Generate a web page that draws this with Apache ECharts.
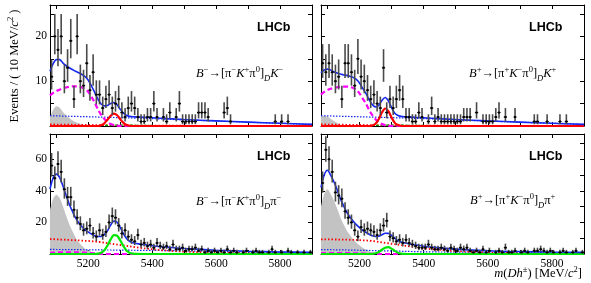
<!DOCTYPE html>
<html><head><meta charset="utf-8">
<script src="https://cdn.jsdelivr.net/npm/echarts@6/dist/echarts.min.js"></script>
<style>html,body{margin:0;padding:0;background:#fff}#c{width:591px;height:283px}</style>
</head><body><div id="c"></div>
<script>
// ---------- data ----------
const binCenters = [5085,5095,5105,5115,5125,5135,5145,5155,5165,5175,5185,5195,5205,5215,5225,5235,5245,5255,5265,5275,5285,5295,5305,5315,5325,5335,5345,5355,5365,5375,5385,5395,5405,5415,5425,5435,5445,5455,5465,5475,5485,5495,5505,5515,5525,5535,5545,5555,5565,5575,5585,5595,5605,5615,5625,5635,5645,5655,5665,5675,5685,5695,5705,5715,5725,5735,5745,5755,5765,5775,5785,5795,5805,5815,5825,5835,5845,5855,5865,5875,5885,5895];

const tlCounts = [11,20,17,20,10,13,19,6,20,10, 9,14,8,12,7,7,4,6,7,4, 5,6,3,2,4,5,4,2,1,1, 2,2,5,2,null,2,1,3,null,2, 5,1,1,1,1,1,3,3,3,2, null,null,null,null,3,4,1,null,null,null, null,null,null,null,null,null,null,null,null,null, 1,null,1,null,1,null,null,null,null,null, null,null];
const trCounts = [14,12,14,12,10,11,6,14,14,12, 9,15,11,10,8,6,7,5,4,13, 3,6,4,6,8,6,2,2,1,1, 3,2,null,1,4,1,2,1,1,1, 1,1,1,1,2,2,2,null,3,null, 1,1,1,1,2,3,null,2,null,null, 2,null,null,null,null,null,1,1,null,null, 1,null,null,null,1,null,1,null,null,null, null,null];
const blCounts = [56,48,57,52,41,36,36,28,23,19, 15,16,18,13,11,15,12,14,20,24, 23,18,13,15,11,9,8,12,6,7, 5,6,4,7,5,4,5,3,6,3, 3,4,2,3,3,4,2,3,1,2, 1,2,1,2,1,3,1,2,1,null, 1,2,null,1,2,1,1,null,1,3, 1,null,1,null,2,1,null,1,null,1, null,1];
const brCounts = [45,66,60,52,39,37,35,27,23,20, 15,11,17,15,16,15,14,12,15,18, 21,11,10,8,9,7,9,7,6,5, 4,4,4,6,4,3,3,4,3,2, 4,3,2,4,3,4,2,1,2,1, 3,1,2,null,1,2,1,4,1,1, 2,null,1,2,1,null,2,2,3,2, 1,2,1,null,1,2,1,null,1,2, null,1];

const fitMass = [5080,5090,5100,5110,5120,5130,5140,5150,5160,5170,5180,5190,5200,5210,5220,5230,5240,5250,5260,5270,5280,5290,5300,5310,5320,5330,5340,5350,5375,5400,5450,5500,5600,5700,5800,5900];

// B- -> D K-
const tlTotal   = [12.2,13.9,14.8,14.8,14.1,13.5,13.0,12.6,12.2,11.9,11.5,11.0,10.2,8.9,7.5,5.98,4.92,4.5,4.6,5.01,5.25,4.75,3.71,2.86,2.33,2.14,2.06,2.02,1.93,1.85,1.64,1.45,1.15,0.87,0.61,0.36];
const tlGray    = [2.0,3.6,4.4,4.1,3.2,2.4,1.8,1.3,0.9,0.6,0.4,0.25,0.15,0.08,0.03,0,0,0,0,0,0,0,0,0,0,0,0,0,0,0,0,0,0,0,0,0];
const tlMagenta = [6.8,7.4,7.8,8.1,8.4,8.6,8.75,8.85,8.85,8.8,8.6,8.2,7.6,6.5,5.2,3.7,2.5,1.6,0.9,0.45,0.2,0.08,0.02,0,0,0,0,0,0,0,0,0,0,0,0,0];
const tlSignal  = [0,0,0,0,0,0,0,0,0,0,0,0,0,0,0,0,0.15,0.6,1.4,2.3,2.75,2.4,1.5,0.7,0.2,0.05,0,0,0,0,0,0,0,0,0,0];
const tlBlueDot = [2.3,2.28,2.26,2.24,2.22,2.2,2.18,2.16,2.14,2.12,2.1,2.08,2.06,2.04,2.02,2.0,1.98,1.96,1.94,1.92,1.9,1.88,1.86,1.84,1.82,1.8,1.78,1.76,1.71,1.66,1.5,1.35,1.1,0.85,0.6,0.35];
const tlRedDot  = [0.35,0.34,0.33,0.32,0.31,0.3,0.29,0.28,0.27,0.26,0.25,0.24,0.23,0.22,0.21,0.2,0.19,0.18,0.17,0.16,0.15,0.14,0.13,0.12,0.11,0.1,0.1,0.09,0.08,0.07,0.06,0.05,0.03,0.02,0.01,0.01];
const tlGreenDash = [0,0,0,0,0,0,0,0,0,0,0,0,0,0.02,0.05,0.08,0.1,0.12,0.15,0.18,0.2,0.2,0.2,0.2,0.2,0.19,0.18,0.17,0.14,0.12,0.08,0.05,0.02,0,0,0];

// B+ -> D K+
const trTotal   = [11.85,12.5,12.7,12.5,12.1,11.8,11.6,11.4,11.3,11.1,10.85,10.4,9.6,8.4,7.28,5.88,4.77,4.26,4.61,5.71,6.35,5.6,4.11,2.86,2.33,2.14,2.06,2.02,1.93,1.85,1.64,1.45,1.15,0.87,0.61,0.36];
const trGray    = [2.2,2.3,2.1,1.6,1.1,0.65,0.35,0.18,0.08,0.03,0,0,0,0,0,0,0,0,0,0,0,0,0,0,0,0,0,0,0,0,0,0,0,0,0,0];
const trMagenta = [7.0,7.6,8.0,8.3,8.5,8.65,8.75,8.8,8.8,8.7,8.5,8.1,7.3,6.1,5.0,3.6,2.4,1.5,0.85,0.45,0.2,0.08,0.02,0,0,0,0,0,0,0,0,0,0,0,0,0];
const trSignal  = [0,0,0,0,0,0,0,0,0,0,0,0,0,0,0,0,0.1,0.5,1.5,3.0,3.9,3.3,1.9,0.7,0.2,0.05,0,0,0,0,0,0,0,0,0,0];
const trBlueDot = [2.3,2.28,2.26,2.24,2.22,2.2,2.18,2.16,2.14,2.12,2.1,2.08,2.06,2.04,2.02,2.0,1.98,1.96,1.94,1.92,1.9,1.88,1.86,1.84,1.82,1.8,1.78,1.76,1.71,1.66,1.5,1.35,1.1,0.85,0.6,0.35];
const trRedDot  = [0.35,0.34,0.33,0.32,0.31,0.3,0.29,0.28,0.27,0.26,0.25,0.24,0.23,0.22,0.21,0.2,0.19,0.18,0.17,0.16,0.15,0.14,0.13,0.12,0.11,0.1,0.1,0.09,0.08,0.07,0.06,0.05,0.03,0.02,0.01,0.01];
const trGreenDash = [0,0,0,0,0,0,0,0,0,0,0,0,0,0.02,0.05,0.08,0.1,0.12,0.15,0.18,0.2,0.2,0.2,0.2,0.2,0.19,0.18,0.17,0.14,0.12,0.08,0.05,0.02,0,0,0];

// B- -> D pi-
const blTotal   = [41.2,48.2,50.6,48.5,43.4,37.3,31.7,27.1,22.9,19.8,17.3,15.3,13.9,12.6,11.6,11.05,11.1,12.3,14.8,18.4,20.8,20.1,16.8,12.7,9.6,7.9,7.1,6.6,5.9,5.26,4.26,3.5,2.4,1.7,1.3,1.05];
const blGray    = [28,35,37.5,35.5,30.5,24.5,19,14.5,10.5,7.5,5.2,3.4,2.2,1.3,0.7,0.35,0.15,0.05,0,0,0,0,0,0,0,0,0,0,0,0,0,0,0,0,0,0];
const blSignal  = [0,0,0,0,0,0,0,0,0,0,0,0,0,0,0,0.2,0.8,2.4,5.4,9.3,12.0,11.6,8.6,4.9,2.1,0.7,0.2,0.05,0,0,0,0,0,0,0,0];
const blRedDot  = [9.5,9.4,9.3,9.2,9.1,9.0,8.9,8.8,8.7,8.6,8.5,8.4,8.3,8.1,7.9,7.7,7.5,7.2,6.9,6.6,6.3,6.0,5.7,5.4,5.1,4.8,4.5,4.2,3.6,3.0,2.1,1.5,0.8,0.45,0.25,0.15];
const blBlueDot = [2.9,2.88,2.86,2.84,2.82,2.8,2.78,2.76,2.74,2.72,2.7,2.68,2.66,2.64,2.62,2.6,2.58,2.56,2.54,2.52,2.5,2.48,2.46,2.44,2.42,2.4,2.38,2.36,2.31,2.26,2.16,2.0,1.6,1.25,1.05,0.9];
const blMagenta = [0.8,0.9,0.95,1.0,1.0,1.0,1.0,1.0,1.0,0.95,0.9,0.85,0.75,0.6,0.4,0.2,0.1,0.05,0,0,0,0,0,0,0,0,0,0,0,0,0,0,0,0,0,0];

// B+ -> D pi+
const brTotal   = [42.1,50.0,53.0,50.0,45.9,40.8,35.2,30.7,26.6,23.5,20.9,18.6,16.7,15.0,13.7,12.5,11.5,11.1,11.3,12.2,13.1,13.05,11.8,10.05,8.5,7.6,7.07,6.65,5.8,4.95,3.88,3.1,2.1,1.55,1.22,1.0];
const brGray    = [30,38,41,38,34,29,23.5,19,15,12,9.5,7.3,5.5,4.0,2.8,1.8,1.0,0.5,0.2,0.05,0,0,0,0,0,0,0,0,0,0,0,0,0,0,0,0];
const brSignal  = [0,0,0,0,0,0,0,0,0,0,0,0,0,0,0,0,0.1,0.45,1.3,2.7,4.0,4.3,3.4,2.0,0.8,0.25,0.07,0,0,0,0,0,0,0,0,0];
const brRedDot  = [9.3,9.28,9.25,9.22,9.2,9.17,9.13,9.1,9.05,9.0,8.95,8.88,8.8,8.7,8.6,8.45,8.2,8.0,7.7,7.4,7.1,6.8,6.5,6.2,5.9,5.6,5.3,5.0,4.3,3.6,2.6,1.9,1.0,0.55,0.3,0.15];
const brBlueDot = [2.8,2.77,2.74,2.71,2.68,2.65,2.61,2.57,2.53,2.49,2.45,2.41,2.37,2.33,2.29,2.25,2.2,2.15,2.1,2.05,2.0,1.95,1.9,1.85,1.8,1.75,1.7,1.65,1.5,1.35,1.28,1.2,1.1,1.0,0.92,0.85];
const brMagenta = [0.5,0.55,0.6,0.6,0.6,0.6,0.6,0.6,0.6,0.55,0.5,0.45,0.4,0.3,0.2,0.1,0.05,0,0,0,0,0,0,0,0,0,0,0,0,0,0,0,0,0,0,0];

// ticks / labels
const xTickValues = [5100,5200,5300,5400,5500,5600,5700,5800];
const xLabelValues = [5200,5400,5600,5800];
const topYTicks = [5,10,15,20,25];
const topYLabels = [10,20];
const botYTicks = [10,20,30,40,50,60,70];
const botYLabels = [20,40,60];

// ---------- layout ----------
const serif = '"Liberation Serif","Times New Roman",serif';
const panels = [
  {grid:{left:50, top:5, width:262, height:121}, yMax:27, yTicks:topYTicks, yLabels:topYLabels, showX:false, showY:true,
   counts:tlCounts, gray:tlGray, lines:[[tlBlueDot,'bdot'],[tlRedDot,'rdot'],[tlGreenDash,'gdash'],[tlMagenta,'mag'],[tlSignal,'red'],[tlTotal,'total']]},
  {grid:{left:321, top:5, width:263, height:121}, yMax:27, yTicks:topYTicks, yLabels:topYLabels, showX:false, showY:false,
   counts:trCounts, gray:trGray, lines:[[trBlueDot,'bdot'],[trRedDot,'rdot'],[trGreenDash,'gdash'],[trMagenta,'mag'],[trSignal,'red'],[trTotal,'total']]},
  {grid:{left:50, top:134, width:262, height:120}, yMax:76, yTicks:botYTicks, yLabels:botYLabels, showX:true, showY:true,
   counts:blCounts, gray:blGray, lines:[[blBlueDot,'bdot'],[blMagenta,'mag'],[blRedDot,'rdot'],[blSignal,'green'],[blTotal,'total']]},
  {grid:{left:321, top:134, width:263, height:120}, yMax:76, yTicks:botYTicks, yLabels:botYLabels, showX:true, showY:false,
   counts:brCounts, gray:brGray, lines:[[brBlueDot,'bdot'],[brMagenta,'mag'],[brRedDot,'rdot'],[brSignal,'green'],[brTotal,'total']]}
];
const lineStyles = {
  total:{color:'#1428f0', width:1.6, type:'solid'},
  mag:{color:'#ff00ff', width:2.2, type:[5,3]},
  red:{color:'#ff0000', width:2.2, type:'solid'},
  green:{color:'#00e600', width:2.2, type:'solid'},
  rdot:{color:'#ff0000', width:1.8, type:[1.5,2]},
  bdot:{color:'#1428f0', width:1.2, type:[1.5,1.5]},
  gdash:{color:'#00a000', width:1.2, type:[3,2]}
};

const grids = [], xAxes = [], yAxes = [], series = [];
function pairs(xs, ys){ return xs.map((x,k)=>[x, ys[k]]); }
function plain(v){ return String(v); }
function renderPoint(params, api){
  const x = api.value(0), y = api.value(1), lo = api.value(2), hi = api.value(3);
  const p = api.coord([x, y]), pl = api.coord([x, lo]), ph = api.coord([x, hi]);
  const pa = api.coord([x-5, y]), pb = api.coord([x+5, y]);
  return {type:'group', children:[
    {type:'line', shape:{x1:p[0], y1:ph[1], x2:p[0], y2:pl[1]}, style:{stroke:'#4a4a4a', lineWidth:1.6}},
    {type:'line', shape:{x1:pa[0], y1:p[1], x2:pb[0], y2:p[1]}, style:{stroke:'#000', lineWidth:1}},
    {type:'rect', shape:{x:p[0]-1, y:p[1]-1, width:2, height:2}, style:{fill:'#000'}}
  ]};
}
panels.forEach((p, i) => {
  grids.push(Object.assign({show:false, containLabel:false, outerBoundsMode:'none'}, p.grid));
  const axLine = {show:true, onZero:false, lineStyle:{color:'#000', width:1}};
  const xBase = {type:'value', gridIndex:i, min:5080, max:5900, splitLine:{show:false}, axisLine:axLine,
    axisTick:{show:true, inside:true, length:4, customValues:xTickValues, lineStyle:{color:'#000', width:1}}};
  xAxes.push(Object.assign({}, xBase, {position:'bottom',
    axisLabel:{show:p.showX, customValues:xLabelValues, formatter:plain, fontFamily:serif, fontSize:11.5, color:'#000', margin:4}}));
  xAxes.push(Object.assign({}, xBase, {position:'top', axisLabel:{show:false}}));
  const yBase = {type:'value', gridIndex:i, min:0, max:p.yMax, splitLine:{show:false}, axisLine:axLine,
    axisTick:{show:true, inside:true, length:4, customValues:p.yTicks, lineStyle:{color:'#000', width:1}}};
  yAxes.push(Object.assign({}, yBase, {position:'left',
    axisLabel:{show:p.showY, customValues:p.yLabels, formatter:plain, fontFamily:serif, fontSize:11.5, color:'#000', margin:3}}));
  yAxes.push(Object.assign({}, yBase, {position:'right', axisLabel:{show:false}}));

  series.push({type:'line', xAxisIndex:2*i, yAxisIndex:2*i, data:pairs(fitMass, p.gray), showSymbol:false, smooth:0.3,
    lineStyle:{width:0, opacity:0}, areaStyle:{color:'#c3c3c3', opacity:1}, silent:true, z:1, animation:false});
  p.lines.forEach(([arr, key]) => {
    const s = lineStyles[key];
    series.push({type:'line', xAxisIndex:2*i, yAxisIndex:2*i, data:pairs(fitMass, arr), showSymbol:false, smooth:0.3,
      lineStyle:{color:s.color, width:s.width, type:s.type}, silent:true, z:2, animation:false, clip:true});
  });
  const pts = [];
  binCenters.forEach((m, k) => {
    const n = p.counts[k];
    if (n === null || n === undefined) return;
    const r = Math.sqrt(n + 0.25);
    pts.push([m, n, n - (r - 0.5), n + r + 0.5]);
  });
  series.push({type:'custom', xAxisIndex:2*i, yAxisIndex:2*i, data:pts, renderItem:renderPoint,
    encode:{x:0, y:1}, clip:true, z:3, silent:true, animation:false});
});

const richBase = {
  i:{fontFamily:serif, fontStyle:'italic', fontSize:12.5, lineHeight:18, color:'#000'},
  r:{fontFamily:serif, fontSize:12.5, lineHeight:18, color:'#000'},
  sp:{fontFamily:serif, fontSize:8.5, lineHeight:9, verticalAlign:'top', color:'#000'},
  sb:{fontFamily:serif, fontStyle:'italic', fontSize:8.5, lineHeight:9, verticalAlign:'bottom', color:'#000'}
};
function txt(x, y, text, align, rot){
  return {type:'text', x:x, y:y, rotation:rot||0, silent:true,
    style:{text:text, rich:richBase, align:align||'left', verticalAlign:'middle'}};
}
function lhcb(x, y){
  return {type:'text', x:x, y:y, silent:true,
    style:{text:'LHCb', fontFamily:'"Liberation Sans",Arial,sans-serif', fontWeight:'bold', fontSize:12.5, fill:'#000', align:'left', verticalAlign:'middle'}};
}
const graphics = [
  lhcb(257, 28), lhcb(529, 28), lhcb(257, 157), lhcb(529, 157),
  txt(196, 74, '{i|B}{sp|−}{r|→[π}{sp|−}{i|K}{sp|+}{r|π}{sp|0}{r|]}{sb|D}{i|K}{sp|−}'),
  txt(469, 74, '{i|B}{sp|+}{r|→[π}{sp|+}{i|K}{sp|−}{r|π}{sp|0}{r|]}{sb|D}{i|K}{sp|+}'),
  txt(196, 202, '{i|B}{sp|−}{r|→[π}{sp|−}{i|K}{sp|+}{r|π}{sp|0}{r|]}{sb|D}{r|π}{sp|−}'),
  txt(470, 201, '{i|B}{sp|+}{r|→[π}{sp|+}{i|K}{sp|−}{r|π}{sp|0}{r|]}{sb|D}{r|π}{sp|+}'),
  txt(15, 66, '{r|Events / ( 10 MeV/}{i|c}{sp|2}{r| )}', 'center', Math.PI/2),
  txt(582, 274, '{i|m}{r|(}{i|Dh}{sp|±}{r|) [MeV/}{i|c}{sp|2}{r|]}', 'right')
];

const chart = echarts.init(document.getElementById('c'), null, {renderer:'canvas'});
chart.setOption({animation:false, backgroundColor:'#fff', grid:grids, xAxis:xAxes, yAxis:yAxes, series:series, graphic:graphics});
</script>
</body></html>
